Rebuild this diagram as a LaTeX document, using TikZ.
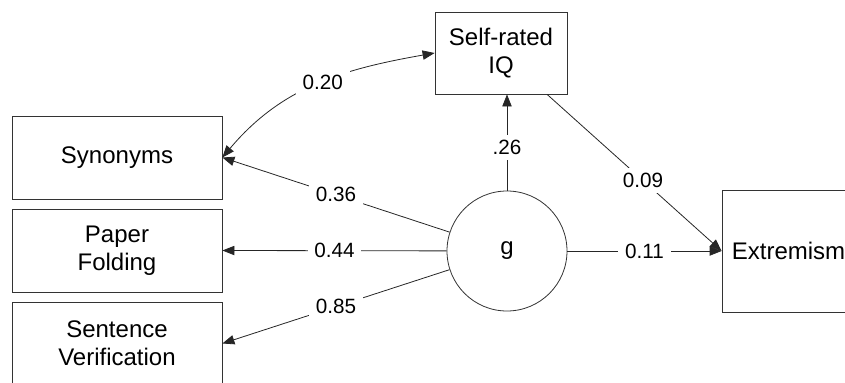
\documentclass[tikz,border=0pt]{standalone}
\usepackage{fontspec}
\setmainfont{Liberation Sans}
\usetikzlibrary{arrows.meta}

\tikzset{
  box/.style={draw=black!80, line width=0.6pt, rectangle, align=center, font=\fontsize{18}{21}\selectfont},
  latent/.style={draw=black!80, line width=0.6pt, circle, minimum size=90pt, font=\fontsize{18}{21}\selectfont},
  lbl/.style={fill=white, inner xsep=5pt, inner ysep=4pt, font=\fontsize{15.5}{18}\selectfont},
  arr/.style={draw=black!85, line width=0.6pt, -{Triangle[length=9pt,width=7pt]}}
}

\begin{document}
\begin{tikzpicture}[x=0.75pt,y=0.75pt,yscale=-1,xscale=1]
\useasboundingbox (0,0) rectangle (845,382);
\clip (0,0) rectangle (845,382);

% Observed indicators
\node (syn) [box, minimum width=157.5pt, minimum height=62.25pt] at (117,157.5) {Synonyms};
\node (pf) [box, minimum width=157.5pt, minimum height=62.25pt] at (117,250.5) {Paper\\Folding};
\node (sv) [box, minimum width=157.5pt, minimum height=62.25pt] at (117,343.5) {Sentence\\Verification};

% Latent factor and outcomes
\node (g) [latent] at (507,251) {g};
\node (iq) [box, minimum width=99pt, minimum height=61.5pt] at (501,53) {Self-rated\\IQ};
\node (ext) [box, minimum width=99.75pt, minimum height=91.5pt] at (788.5,251) {Extremism};

% Loadings
\draw [arr] (g) -- node [lbl] {0.36} (syn.east);
\draw [arr] (g) -- node [lbl] {0.44} (pf.east);
\draw [arr] (g) -- node [lbl] {0.85} (sv.east);

% Structural paths
\draw [arr] (g.north) -- node [lbl, pos=0.45] {.26} (g.north |- iq.south);
\draw [arr] (iq) -- node [lbl, pos=0.55] {0.09} (ext.west);
\draw [arr] (g) -- node [lbl] {0.11} (ext.west);

% Covariance
\draw [arr, {Triangle[length=9pt,width=7pt]}-{Triangle[length=9pt,width=7pt]}] (syn.east) to [out=-50, in=170] node [lbl, pos=0.53] {0.20} (iq.west);
\end{tikzpicture}
\end{document}
